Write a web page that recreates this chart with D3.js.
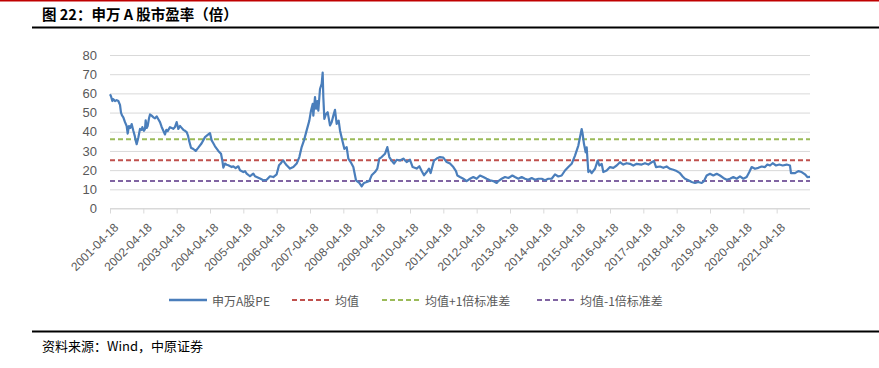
<!DOCTYPE html>
<html>
  <head>
    <meta charset="utf-8">
    <title> 申万A股市盈率 </title>
    <script src="https://cdn.jsdelivr.net/npm/d3@7"></script>
    <style>
      body { margin: 0; background: #fff; }
      .axis text { fill: #595959; font-family: "Liberation Sans", Arial, sans-serif; }
      .cjk { font-family: "Noto Sans CJK SC", sans-serif; }
    </style>
  </head>
  <body>
    <script>
      // x labels, one per year
      var tickLabels = ['2001-04-18','2002-04-18','2003-04-18','2004-04-18','2005-04-18','2006-04-18','2007-04-18',
        '2008-04-18','2009-04-18','2010-04-18','2011-04-18','2012-04-18','2013-04-18','2014-04-18','2015-04-18',
        '2016-04-18','2017-04-18','2018-04-18','2019-04-18','2020-04-18','2021-04-18'];
      var yTicks = [0, 10, 20, 30, 40, 50, 60, 70, 80];

      // years since 2001-04-18
      var peYears = [0,0.03,0.07,0.1,0.15,0.2,0.25,0.3,0.33,0.36,0.4,0.45,0.5,0.53,0.57,0.61,0.65,0.7,0.74,0.77,0.8,0.85,0.9,0.95,0.97,
        1.02,1.05,1.07,1.1,1.13,1.17,1.2,1.25,1.3,1.35,1.4,1.45,1.5,1.55,1.6,1.65,1.69,1.73,1.8,1.85,1.9,1.95,
        2,2.05,2.1,2.13,2.2,2.25,2.3,2.34,2.37,2.43,2.5,2.57,2.65,2.75,2.85,2.95,
        3,3.05,3.1,3.15,3.25,3.33,3.37,3.4,3.45,3.5,3.55,3.65,3.7,3.77,3.85,3.9,
        4,4.05,4.1,4.2,4.25,4.3,4.35,4.4,4.5,4.6,4.7,4.8,4.9,
        5,5.07,5.12,5.15,5.2,5.25,5.3,5.4,5.5,5.6,5.68,5.75,5.82,5.9,5.98,
        6.03,6.08,6.1,6.15,6.18,6.22,6.25,6.3,6.35,6.38,6.4,6.43,6.48,6.53,6.6,6.65,6.7,6.75,6.8,6.86,6.9,6.97,
        7.03,7.1,7.15,7.22,7.3,7.38,7.48,7.55,7.62,7.7,7.78,7.85,7.95,
        8.02,8.08,8.15,8.25,8.32,8.38,8.45,8.52,8.6,8.7,8.8,8.9,
        9,9.08,9.2,9.28,9.35,9.42,9.5,9.57,9.62,9.72,9.8,9.9,
        10,10.1,10.2,10.3,10.38,10.42,10.5,10.6,10.7,10.8,10.9,
        11,11.1,11.2,11.3,11.4,11.5,11.6,11.65,11.75,11.85,11.95,
        12.07,12.15,12.25,12.35,12.45,12.55,12.65,12.75,12.85,12.95,
        13.05,13.15,13.25,13.35,13.45,13.55,13.65,13.75,13.85,13.95,
        14.05,14.1,14.15,14.18,14.22,14.27,14.3,14.35,14.4,14.45,14.55,14.63,14.68,14.75,14.8,14.9,
        15,15.1,15.2,15.3,15.4,15.5,15.6,15.7,15.8,15.95,
        16.05,16.15,16.25,16.32,16.38,16.5,16.6,16.7,16.8,16.9,
        17,17.1,17.18,17.25,17.35,17.45,17.55,17.65,17.75,17.82,17.9,
        18,18.1,18.2,18.3,18.4,18.5,18.6,18.7,18.8,18.9,
        19,19.1,19.18,19.25,19.35,19.45,19.55,19.65,19.72,19.8,19.88,19.98,
        20.08,20.18,20.3,20.4,20.43,20.55,20.65,20.75,20.85,20.92,21];

      var peValues = [59.5,58.5,56,57,56,56.5,56,54,50,48.5,47.5,45,43,39,43,42,44,40.5,38,35.5,33.5,37,41.5,41,42.4,
        40.5,41.5,46,42,43,47,49,48.4,47.5,47,48,46.5,45,42.5,40.5,38.6,41,40.3,42.4,42,41.5,42.5,
        45,41.5,43,42.4,41,40.5,39.8,38,35.5,31.7,31,30,31.7,34,37.2,38.6,
        39.3,35.5,34,32.4,30,28.5,25,21.3,23.4,22.8,22.5,21.6,22,21.1,22,19.9,
        19,19.5,18.2,16.8,17.5,18.2,16.8,16.4,15.6,14.7,15,16.8,16.4,
        17.8,22.5,23.4,24.2,25,23.7,22.5,20.8,21.6,23.4,26.8,32,35.5,40.7,45.8,
        51,54.5,48.4,58,52,56,51,62.3,65,70.8,58,46.7,49.3,50.2,43.3,45,48.4,51.4,44.1,45.8,40.7,35.5,
        31.1,32,26,24.2,21.6,14.7,13.3,11.6,13.3,13.8,14.4,17.3,19,
        20.8,26,26.8,28.5,32,26.8,25,23.4,25.4,25,26,24.2,
        25.4,21.6,20.8,22,19.5,17.3,19,20.8,18.5,25,26,26.8,
        26.5,24.2,23.4,21.6,19.5,17.2,16.4,15.5,14.3,15.5,16.4,
        15.5,17.2,16.4,15.5,14.7,14.3,13.3,14.3,15.5,16.4,15.9,
        17.2,16.4,15.5,16.4,15.5,15,15.9,15,15.5,15.5,
        14.7,15.5,15.5,17.8,16.7,17.2,19.8,21.6,23.3,27.6,
        32.8,37.1,41.4,38.8,33.6,29.3,31.9,19,19.8,18.4,20.7,25,22.4,23.3,19,19.8,
        21.6,21.2,22.4,24.1,22.9,23.6,23.3,22.4,23.3,22.9,
        23.6,22.9,24.1,24.7,21.6,21.9,21.2,21.9,20.7,20.2,
        19.5,18.4,16.7,15.5,14.7,13.8,13.3,13.8,13.3,14.3,17.2,
        18.1,17.2,18.1,17.2,15.9,15,15.5,16.4,15.5,16.7,
        15.5,16.4,19,21.6,20.7,21.2,21.9,21.6,22.9,22.4,23.6,22.4,
        22.9,22.4,22.9,22.4,18.4,18.4,19.5,19,17.8,16.4,16.5];

      var meanPE = 25.2;
      var stdPE = 10.9;

      var legendNames = ['申万A股PE', '均值', '均值+1倍标准差', '均值-1倍标准差'];
      var colors = ['#4a7ebb', '#c0504d', '#9bbb59', '#8064a2'];

      var svg = d3.select('body').append('svg').attr('width', 879).attr('height', 368);

      // frame: red top rule, title, black rules
      svg.append('line').attr('x1', 0).attr('x2', 879).attr('y1', 0.75).attr('y2', 0.75)
        .attr('stroke', '#c00000').attr('stroke-width', 1.5);
      svg.append('text').attr('class', 'cjk').attr('x', 42).attr('y', 20)
        .attr('font-size', 14.5).attr('font-weight', 'bold').attr('fill', '#000')
        .text('图 22：申万 A 股市盈率（倍）');
      svg.append('line').attr('x1', 32).attr('x2', 879).attr('y1', 27.5).attr('y2', 27.5)
        .attr('stroke', '#000').attr('stroke-width', 2);
      svg.append('line').attr('x1', 32).attr('x2', 879).attr('y1', 331.5).attr('y2', 331.5)
        .attr('stroke', '#000').attr('stroke-width', 2);
      svg.append('text').attr('class', 'cjk').attr('x', 42).attr('y', 351)
        .attr('font-size', 13).attr('fill', '#000')
        .text('资料来源：Wind，中原证券');

      var x = d3.scaleLinear().domain([0, 21]).range([110, 810]);
      var y = d3.scaleLinear().domain([0, 80]).range([208.5, 55]);

      // y axis with grid
      var yAxis = svg.append('g').attr('class', 'axis').attr('transform', 'translate(110,0)')
        .call(d3.axisLeft(y).tickValues(yTicks).tickSize(-700).tickPadding(13));
      yAxis.select('.domain').remove();
      yAxis.selectAll('line').attr('stroke', '#d9d9d9');
      yAxis.selectAll('text').attr('font-size', 13);

      // x axis
      var xAxis = svg.append('g').attr('class', 'axis').attr('transform', 'translate(0,208.5)')
        .call(d3.axisBottom(x).tickValues(d3.range(tickLabels.length)).tickSize(5)
          .tickFormat(function(d, i){ return tickLabels[i]; }));
      xAxis.select('.domain').attr('stroke', '#d9d9d9').attr('d', 'M110,0H810');
      xAxis.selectAll('line').attr('stroke', '#d9d9d9');
      xAxis.selectAll('text').attr('font-size', 12)
        .attr('text-anchor', 'end').attr('dominant-baseline', 'central').attr('dy', null)
        .attr('y', 0)
        .attr('transform', 'translate(6,17) rotate(-45)');

      // reference lines
      var refs = [meanPE, meanPE + stdPE, meanPE - stdPE];
      svg.selectAll('.ref').data(refs).enter().append('line').attr('class', 'ref')
        .attr('x1', 110).attr('x2', 810)
        .attr('y1', function(d){ return y(d); }).attr('y2', function(d){ return y(d); })
        .attr('stroke', function(d, i){ return colors[i + 1]; })
        .attr('stroke-width', 2).attr('stroke-dasharray', '5,3');

      // PE series
      var line = d3.line().x(function(d){ return x(d[0]); }).y(function(d){ return y(d[1]); });
      svg.append('path').datum(d3.zip(peYears, peValues))
        .attr('d', line).attr('fill', 'none')
        .attr('stroke', colors[0]).attr('stroke-width', 2.2).attr('stroke-linejoin', 'round');

      // legend
      var legendX = [169, 292, 382, 537];
      var legend = svg.selectAll('.legend').data(legendNames).enter().append('g').attr('class', 'legend')
        .attr('transform', function(d, i){ return 'translate(' + legendX[i] + ',300)'; });
      legend.append('line').attr('x1', 0).attr('x2', 38).attr('y1', 0).attr('y2', 0)
        .attr('stroke', function(d, i){ return colors[i]; })
        .attr('stroke-width', function(d, i){ return i === 0 ? 2.5 : 2; })
        .attr('stroke-dasharray', function(d, i){ return i === 0 ? null : '5,3'; });
      legend.append('text').attr('class', 'cjk').attr('x', 43).attr('y', 0)
        .attr('dominant-baseline', 'central').attr('font-size', 12).attr('fill', '#595959')
        .text(function(d){ return d; });
    </script>
  </body>
</html>
